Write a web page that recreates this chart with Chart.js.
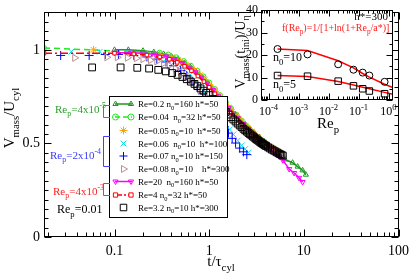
<!DOCTYPE html>
<html><head><meta charset="utf-8">
<script src="https://cdn.jsdelivr.net/npm/chart.js@4/dist/chart.umd.min.js"></script>
<style>
html,body{margin:0;padding:0;background:#fff;}
#wrap{position:relative;width:415px;height:275px;overflow:hidden;}
#main{position:absolute;left:0;top:0;}
#inset{position:absolute;left:225px;top:0;}
</style></head><body>
<div id="wrap"><canvas id="main" width="415" height="275"></canvas><canvas id="inset" width="190" height="135"></canvas></div>
<script>
// ---------------- data ----------------
const greenT = [0.1,0.14,0.2,0.26,0.33,0.4,0.47,0.55,0.63,0.72,0.82,0.93,1.05,1.2,1.35,1.5,1.7,1.9,2.1,2.4,2.7,3.0,3.4,3.8,4.3,4.8,5.4,6.3,7.6,8.6,9.7,10.5];
const greenV = [1.0,1.0,0.995,0.988,0.978,0.965,0.95,0.93,0.91,0.885,0.858,0.83,0.8,0.765,0.735,0.71,0.68,0.655,0.632,0.603,0.578,0.557,0.533,0.512,0.49,0.465,0.44,0.414,0.397,0.376,0.356,0.333];
const limeT = [0.018,0.3,0.37,0.45,0.54,0.64,0.75,0.87,1.0,1.15,1.3,1.5,1.7,1.95,2.2,2.5,2.8,3.2,3.6,4.0];
const limeV = [1.01,0.985,0.975,0.96,0.94,0.915,0.888,0.858,0.825,0.79,0.758,0.72,0.688,0.652,0.622,0.592,0.565,0.535,0.51,0.49];
const orangeT = [0.06,0.3,0.4,0.5,0.6,0.7,0.8,0.9,1.0,1.1,1.2,1.3,1.45,1.6,1.75,1.9,2.05,2.2,2.4,2.6,2.8,3.0,3.25,3.5,3.75,4.0,4.3,4.6,4.9,5.2,5.5];
const orangeV = [1.0,0.975,0.96,0.94,0.915,0.89,0.865,0.84,0.815,0.79,0.768,0.746,0.718,0.692,0.67,0.65,0.632,0.615,0.596,0.578,0.563,0.549,0.533,0.519,0.507,0.496,0.484,0.474,0.465,0.457,0.45];
const cyanT = [0.035,0.07,0.14,0.21,0.28,0.35,0.42,0.49,0.56,0.63,0.7,0.8,0.9,1.0,1.1,1.2,1.35,1.5,1.65,1.8,2.0,2.2,2.4,2.6];
const cyanV = [0.99,0.99,0.985,0.977,0.965,0.95,0.932,0.912,0.89,0.866,0.842,0.808,0.775,0.742,0.71,0.68,0.64,0.605,0.575,0.548,0.515,0.49,0.47,0.452];
const blueT = [0.027,0.054,0.08,0.11,0.16,0.22,0.28,0.35,0.42,0.5,0.58,0.66,0.75,0.85,0.95,1.05,1.15,1.3,1.45,1.6,1.75,1.9,2.1,2.3,2.5];
const blueV = [0.97,0.97,0.975,0.975,0.97,0.962,0.95,0.935,0.915,0.89,0.862,0.832,0.8,0.765,0.73,0.698,0.668,0.625,0.588,0.555,0.527,0.502,0.475,0.455,0.44];
const brownT = [0.038,0.083,0.107,0.137,0.17,0.2,0.24,0.28,0.33,0.38,0.44,0.5,0.57,0.64,0.72,0.8,0.9,1.0,1.1,1.25,1.4];
const brownV = [0.957,0.96,0.96,0.958,0.955,0.95,0.945,0.938,0.928,0.916,0.9,0.882,0.86,0.836,0.81,0.784,0.752,0.72,0.69,0.65,0.615];
const magT = [0.1,0.15,0.2,0.27,0.35,0.43,0.52,0.62,0.72,0.83,0.95,1.1,1.25,1.4,1.6,1.8,2.0,2.3,2.6,3.0,3.4,3.9,4.4,5.0,5.5,6.0,7.0,7.9,8.9,9.7];
const magV = [0.985,0.985,0.982,0.975,0.965,0.95,0.93,0.905,0.88,0.852,0.82,0.785,0.752,0.723,0.69,0.66,0.635,0.603,0.576,0.546,0.52,0.495,0.473,0.45,0.43,0.41,0.363,0.342,0.316,0.294];
const redT = [0.018,0.1,0.16,0.22,0.3,0.38,0.46,0.55,0.65,0.76,0.88,1.0,1.15,1.3,1.5,1.7,1.95,2.2,2.5,2.8,3.2,3.6,4.0];
const redV = [0.982,0.982,0.978,0.972,0.962,0.95,0.933,0.912,0.888,0.86,0.83,0.8,0.765,0.733,0.695,0.663,0.628,0.6,0.571,0.547,0.52,0.498,0.48];
const blackT = [0.058,0.116,0.174,0.232,0.29,0.348,0.406,0.464,0.522,0.58,0.64,0.7,0.75,0.81,0.87,0.93,0.99,1.1,1.2,1.3,1.4,1.5,1.6,1.7,1.8,1.9,2.0,2.1,2.2,2.3,2.4,2.5,2.6,2.7,2.8,2.9,3.0,3.1,3.2,3.3,3.4,3.5,3.6,3.7,3.8,3.9,4.0,4.2,4.4,4.6,4.8,5.0,5.2,5.4,5.6,5.8,6.0];
const blackV = [0.906,0.906,0.904,0.9,0.893,0.885,0.876,0.866,0.855,0.843,0.83,0.818,0.806,0.794,0.782,0.77,0.758,0.737,0.718,0.7,0.684,0.668,0.654,0.64,0.628,0.617,0.606,0.596,0.587,0.578,0.57,0.563,0.556,0.549,0.543,0.537,0.531,0.525,0.52,0.515,0.51,0.505,0.501,0.497,0.493,0.489,0.486,0.479,0.473,0.467,0.462,0.457,0.452,0.447,0.443,0.439,0.435];

const xTickLabels = ['0.1','1','10','100'];
const yTickLabels = ['0','0.5','1'];

// inset
const insetRe = [2e-4,2e-3,0.021,0.068,0.138,0.23,0.74];
const insetCirc = [22.7,20.3,15.9,13.5,12.2,10.9,8.1];
const insetSq = [10.9,10.6,8.4,6.3,5.0,4.0,2.8];
const fitRe = [2e-4,2e-3,0.021,0.068,0.138,0.23,0.74,1.41];
const fit10 = [22.7,22.0,17.5,14.3,11.8,10.2,7.0,5.5];
const fit5 = [10.9,10.5,8.2,6.7,5.7,5.0,3.4,2.5];
const insetXTicks = [['10','-4'],['10','-3'],['10','-2'],['10','-1'],['10','0']];
const insetYTickLabels = ['0','10','20','30','40'];

// ---------------- helpers ----------------
const SERIF = '"Liberation Serif","Times New Roman",serif';
const pts = (xs, ys) => xs.map((x, i) => ({x, y: ys[i]}));
function fnt(s){ return s + 'px ' + SERIF; }
function rich(ctx, x, y, parts, size, color, align){
  ctx.save();
  ctx.fillStyle = color; ctx.textAlign = 'left'; ctx.textBaseline = 'alphabetic';
  let w = 0;
  for (const [t, m] of parts){ ctx.font = fnt(m ? size*0.72 : size); w += ctx.measureText(t).width; }
  let cx = align === 'center' ? x - w/2 : align === 'right' ? x - w : x;
  for (const [t, m] of parts){
    const s = m ? size*0.72 : size; ctx.font = fnt(s);
    const dy = m === 1 ? size*0.3 : m === 2 ? -size*0.42 : 0;
    ctx.fillText(t, cx, y + dy); cx += ctx.measureText(t).width;
  }
  ctx.restore();
  return w;
}
function marker(ctx, style, x, y, r, color, rot, fill){
  ctx.save(); ctx.translate(x, y); ctx.rotate((rot||0)*Math.PI/180);
  ctx.strokeStyle = color; ctx.lineWidth = 1; ctx.setLineDash([]); ctx.beginPath();
  const d = r*0.7071;
  switch(style){
    case 'triangle': ctx.moveTo(0,-r); ctx.lineTo(r*0.866, r*0.5); ctx.lineTo(-r*0.866, r*0.5); ctx.closePath(); break;
    case 'circle': ctx.arc(0,0,r,0,Math.PI*2); break;
    case 'rect': ctx.rect(-d,-d,2*d,2*d); break;
    case 'cross': ctx.moveTo(0,-r); ctx.lineTo(0,r); ctx.moveTo(-r,0); ctx.lineTo(r,0); break;
    case 'crossRot': ctx.moveTo(-d,-d); ctx.lineTo(d,d); ctx.moveTo(-d,d); ctx.lineTo(d,-d); break;
    case 'star': ctx.moveTo(0,-r); ctx.lineTo(0,r); ctx.moveTo(-r,0); ctx.lineTo(r,0); ctx.moveTo(-d,-d); ctx.lineTo(d,d); ctx.moveTo(-d,d); ctx.lineTo(d,-d); break;
  }
  if (fill){ ctx.fillStyle = fill; ctx.fill(); }
  ctx.stroke(); ctx.restore();
}
function seg(ctx, x1, y1, x2, y2){ ctx.beginPath(); ctx.moveTo(x1,y1); ctx.lineTo(x2,y2); ctx.stroke(); }

const C = {green:'#1e961e', lime:'#22e822', orange:'#ffa500', cyan:'#00e5ee', blue:'#0000ff', brown:'#bc8f8f', magenta:'#ff00ff', red:'#ff0000', black:'#000000'};

// ---------------- main chart ----------------
const series = [
  {data:pts(greenT,greenV), borderColor:C.green, backgroundColor:'rgba(0,0,0,0)', showLine:true, borderWidth:1.5, pointStyle:'triangle', pointRadius:3, pointBorderWidth:1, order:8},
  {data:pts(limeT,limeV), borderColor:C.lime, backgroundColor:'rgba(0,0,0,0)', showLine:true, borderWidth:1.5, borderDash:[6,4], pointStyle:'circle', pointRadius:2.5, pointBorderWidth:1, order:7},
  {data:pts(orangeT,orangeV), borderColor:C.orange, backgroundColor:'rgba(0,0,0,0)', showLine:false, pointStyle:'star', pointRadius:4, pointBorderWidth:1, order:6},
  {data:pts(cyanT,cyanV), borderColor:C.cyan, backgroundColor:'rgba(0,0,0,0)', showLine:false, pointStyle:'crossRot', pointRadius:4, pointBorderWidth:1, order:5},
  {data:pts(blueT,blueV), borderColor:C.blue, backgroundColor:'rgba(0,0,0,0)', showLine:false, pointStyle:'cross', pointRadius:4.5, pointBorderWidth:1, order:4},
  {data:pts(brownT,brownV), borderColor:C.brown, backgroundColor:'rgba(0,0,0,0)', showLine:false, pointStyle:'triangle', rotation:90, pointRadius:4, pointBorderWidth:1, order:3},
  {data:pts(magT,magV), borderColor:C.magenta, backgroundColor:'rgba(0,0,0,0)', showLine:true, borderWidth:1.5, pointStyle:'triangle', rotation:180, pointRadius:3, pointBorderWidth:1, order:2},
  {data:pts(redT,redV), borderColor:C.red, backgroundColor:'#ffffff', showLine:true, borderWidth:1.5, borderDash:[8,3,2,3], pointStyle:'rect', pointRadius:2.5, pointBorderWidth:1, order:1},
  {data:pts(blackT,blackV), borderColor:C.black, backgroundColor:'rgba(0,0,0,0)', showLine:false, pointStyle:'rect', pointRadius:4.8, pointBorderWidth:1, order:0}
];

const xTickVals = [];
for (let e = -2; e <= 1; e++) for (let m = 1; m <= 9; m++) xTickVals.push(+(m*Math.pow(10,e)).toPrecision(3));
xTickVals.push(100);
const yTickVals = [];
for (let i = 0; i <= 24; i++) yTickVals.push(+(i*0.05).toFixed(2));

const legendRows = [
  {kind:'line', color:C.green, style:'triangle', rot:0, dash:[], parts:[['Re=0.2 n',0],['0',1],['=160 h*=50',0]]},
  {kind:'line', color:C.lime, style:'circle', rot:0, dash:[5,3], parts:[['Re=0.04  n',0],['0',1],['=32 h*=50',0]]},
  {kind:'pt', color:C.orange, style:'star', rot:0, parts:[['Re=0.05 n',0],['0',1],['=10  h*=50',0]]},
  {kind:'pt', color:C.cyan, style:'crossRot', rot:0, parts:[['Re=0.06  n',0],['0',1],['=10  h*=100',0]]},
  {kind:'pt', color:C.blue, style:'cross', rot:0, parts:[['Re=0.07 n',0],['0',1],['=10 h*=150',0]]},
  {kind:'pt', color:C.brown, style:'triangle', rot:90, parts:[['Re=0.08 n',0],['0',1],['=10    h*=300',0]]},
  {kind:'line', color:C.magenta, style:'triangle', rot:180, dash:[], parts:[['Re=20  n',0],['0',1],['=160 h*=50',0]]},
  {kind:'line', color:C.red, style:'rect', rot:0, dash:[7,2,2,2], fill:'#fff', parts:[['Re=4 n',0],['0',1],['=32 h*=50',0]]},
  {kind:'pt', color:C.black, style:'rect', rot:0, parts:[['Re=3.2 n',0],['0',1],['=10 h*=300',0]]}
];
const legendY = [104,117,130.5,143.5,156,169,181.5,195,207.5];

const mainDeco = {
  id:'mainDeco',
  beforeDraw(chart){ const c = chart.ctx; c.save(); c.fillStyle='#fff'; c.fillRect(0,0,chart.width,chart.height); c.restore(); },
  afterDraw(chart){
    const ctx = chart.ctx, a = chart.chartArea, xs = chart.scales.x, ys = chart.scales.y;
    ctx.save();
    ctx.strokeStyle = '#000'; ctx.lineWidth = 1;
    const L = Math.round(a.left)+0.5, R = Math.round(a.right)-0.5, T = Math.round(a.top)+0.5, B = Math.round(a.bottom)-0.5;
    ctx.strokeRect(L, T, R-L, B-T);
    xTickVals.forEach(v => {
      const x = Math.round(xs.getPixelForValue(v))+0.5; if (x < L-1 || x > R+1) return;
      const major = Math.abs(Math.log10(v) - Math.round(Math.log10(v))) < 1e-6;
      const len = major ? 7 : 4;
      seg(ctx, x, B, x, B-len); seg(ctx, x, T, x, T+len);
    });
    yTickVals.forEach(v => {
      const y = Math.round(ys.getPixelForValue(v))+0.5;
      const major = Math.abs(v*2 - Math.round(v*2)) < 1e-6;
      const len = major ? 7 : 4;
      seg(ctx, L, y, L+len, y); seg(ctx, R, y, R-len, y);
    });
    rich(ctx, 221, 266, [['t/τ',0],['cyl',1]], 15, '#000', 'center');
    ctx.save(); ctx.translate(14, 118); ctx.rotate(-Math.PI/2);
    rich(ctx, 0, 0, [['V',0],['mass',1],['/U',0],['cyl',1]], 15, '#000', 'center');
    ctx.restore();
    // legend box
    ctx.fillStyle = '#fff'; ctx.fillRect(109.5, 96.5, 118, 121);
    ctx.strokeStyle = '#000'; ctx.strokeRect(109.5, 96.5, 118, 121);
    legendRows.forEach((r, i) => {
      const y = legendY[i];
      if (r.kind === 'line'){
        ctx.save(); ctx.strokeStyle = r.color; ctx.lineWidth = 1.5; ctx.setLineDash(r.dash); seg(ctx, 115, y, 132, y); ctx.restore();
        marker(ctx, r.style, 115.5, y, 3, r.color, r.rot, r.fill);
        marker(ctx, r.style, 131, y, 3, r.color, r.rot, r.fill);
      } else {
        marker(ctx, r.style, 123.5, y, r.style === 'rect' ? 4.6 : 4, r.color, r.rot);
      }
      rich(ctx, 138, y + 3.2, r.parts, 9, '#000', 'left');
    });
    const br = (color, y1, y2) => { ctx.save(); ctx.strokeStyle = color; ctx.lineWidth = 1; ctx.beginPath(); ctx.moveTo(110, y1+0.5); ctx.lineTo(103.5, y1+0.5); ctx.lineTo(103.5, y2+0.5); ctx.lineTo(110, y2+0.5); ctx.stroke(); ctx.restore(); };
    br('#2aa02a', 105, 117);
    br('#4040ff', 136, 166);
    br('#ff3030', 183, 195);
    rich(ctx, 55, 113, [['Re',0],['p',1],['=4x10',0],['-5',2]], 11, '#2aa02a', 'left');
    rich(ctx, 50, 159, [['Re',0],['p',1],['=2x10',0],['-4',2]], 11, '#3a3aff', 'left');
    rich(ctx, 53, 195, [['Re',0],['p',1],['=4x10',0],['-3',2]], 11, '#ff2020', 'left');
    rich(ctx, 57, 213, [['Re',0],['p',1],['=0.01',0]], 12, '#000', 'left');
    ctx.restore();
  }
};

new Chart(document.getElementById('main'), {
  type:'scatter',
  data:{datasets:series},
  options:{
    responsive:false, animation:false, devicePixelRatio:1,
    layout:{padding:{top:3,right:12,left:0,bottom:0}},
    plugins:{legend:{display:false}, tooltip:{enabled:false}},
    scales:{
      x:{type:'logarithmic', min:0.018, max:100,
        afterBuildTicks:s => { s.ticks = xTickVals.map(v => ({value:v})); },
        afterFit:s => { s.height = 38; },
        grid:{display:false, drawTicks:false}, border:{display:false},
        ticks:{autoSkip:false, maxRotation:0, padding:6, color:'#000', font:{family:SERIF, size:14},
          callback:(v) => { const i = [0.1,1,10,100].findIndex(d => Math.abs(d - v) < 1e-9); return i >= 0 ? xTickLabels[i] : ''; }}
      },
      y:{type:'linear', min:0, max:1.2,
        afterBuildTicks:s => { s.ticks = yTickVals.map(v => ({value:v})); },
        afterFit:s => { s.width = 44; },
        grid:{display:false, drawTicks:false}, border:{display:false},
        ticks:{autoSkip:false, padding:4, color:'#000', font:{family:SERIF, size:14},
          callback:(v) => { const i = [0,0.5,1].findIndex(d => Math.abs(d - v) < 1e-9); return i >= 0 ? yTickLabels[i] : ''; }}
      }
    }
  },
  plugins:[mainDeco]
});

// ---------------- inset chart ----------------
const insetXVals = [];
for (let e = -5; e <= 0; e++) for (let m = 1; m <= 9; m++) insetXVals.push(+(m*Math.pow(10,e)).toPrecision(3));
const insetYVals = [];
for (let i = 0; i <= 8; i++) insetYVals.push(i*5);
const IXMIN = Math.pow(10,-4.25), IXMAX = Math.pow(10,0.15);

const insetDeco = {
  id:'insetDeco',
  beforeDatasetsDraw(chart){ const c = chart.ctx, a = chart.chartArea; c.save(); c.fillStyle='#fff'; c.fillRect(a.left, a.top, a.right-a.left, a.bottom-a.top); c.restore(); },
  afterDraw(chart){
    const ctx = chart.ctx, a = chart.chartArea, xs = chart.scales.x, ys = chart.scales.y;
    ctx.save(); ctx.strokeStyle = '#000'; ctx.lineWidth = 1;
    const L = Math.round(a.left)+0.5, R = Math.round(a.right)-0.5, T = Math.round(a.top)+0.5, B = Math.round(a.bottom)-0.5;
    ctx.strokeRect(L, T, R-L, B-T);
    insetXVals.forEach(v => {
      if (v < IXMIN || v > IXMAX) return;
      const x = Math.round(xs.getPixelForValue(v))+0.5;
      const major = Math.abs(Math.log10(v) - Math.round(Math.log10(v))) < 1e-6;
      const len = major ? 6 : 3;
      seg(ctx, x, B, x, B-len); seg(ctx, x, T, x, T+len);
    });
    insetYVals.forEach(v => {
      const y = Math.round(ys.getPixelForValue(v))+0.5;
      const len = v % 10 === 0 ? 6 : 3;
      seg(ctx, L, y, L+len, y); seg(ctx, R, y, R-len, y);
    });
    [1e-4,1e-3,1e-2,1e-1,1].forEach((v, i) => {
      const x = xs.getPixelForValue(v);
      rich(ctx, x, 115, [[insetXTicks[i][0],0],[insetXTicks[i][1],2]], 12, '#000', 'center');
    });
    rich(ctx, 103, 128, [['Re',0],['p',1]], 15, '#000', 'center');
    ctx.save(); ctx.translate(20, 52); ctx.rotate(-Math.PI/2);
    rich(ctx, 0, 0, [['V',0],['mass',1],['(t',0],['ini',1],[')/U',0],['η',1]], 14, '#000', 'center');
    ctx.restore();
    rich(ctx, 163, 19.5, [['h*=300',0]], 11, '#000', 'right');
    rich(ctx, 57, 31, [['f(Re',0],['p',1],[')=1/[1+ln(1+Re',0],['p',1],['/a*)]',0]], 10, '#ff2020', 'left');
    rich(ctx, 48, 61, [['n',0],['0',1],['=10',0]], 12, '#000', 'left');
    rich(ctx, 48, 88, [['n',0],['0',1],['=5',0]], 12, '#000', 'left');
    ctx.restore();
  }
};

new Chart(document.getElementById('inset'), {
  type:'scatter',
  data:{datasets:[
    {data:pts(insetRe,insetCirc), borderColor:'#000', backgroundColor:'rgba(0,0,0,0)', showLine:false, pointStyle:'circle', pointRadius:3.5, pointBorderWidth:1, order:0},
    {data:pts(insetRe,insetSq), borderColor:'#000', backgroundColor:'rgba(0,0,0,0)', showLine:false, pointStyle:'rect', pointRadius:4.6, pointBorderWidth:1, order:1},
    {data:pts(fitRe,fit10), borderColor:'#ff0000', showLine:true, borderWidth:1.5, pointRadius:0, order:2},
    {data:pts(fitRe,fit5), borderColor:'#ff0000', showLine:true, borderWidth:1.5, pointRadius:0, order:3}
  ]},
  options:{
    responsive:false, animation:false, devicePixelRatio:1,
    layout:{padding:{top:5,right:22,left:0,bottom:0}},
    plugins:{legend:{display:false}, tooltip:{enabled:false}},
    scales:{
      x:{type:'logarithmic', min:IXMIN, max:IXMAX,
        afterBuildTicks:s => { s.ticks = insetXVals.filter(v => v >= IXMIN && v <= IXMAX).map(v => ({value:v})); },
        afterFit:s => { s.height = 35; },
        grid:{display:false, drawTicks:false}, border:{display:false},
        ticks:{display:false}
      },
      y:{type:'linear', min:0, max:40,
        afterBuildTicks:s => { s.ticks = insetYVals.map(v => ({value:v})); },
        afterFit:s => { s.width = 36; },
        grid:{display:false, drawTicks:false}, border:{display:false},
        ticks:{autoSkip:false, padding:3, color:'#000', font:{family:SERIF, size:12},
          callback:(v) => v % 10 === 0 ? insetYTickLabels[v/10] : ''}
      }
    }
  },
  plugins:[insetDeco]
});
</script>
</body></html>
